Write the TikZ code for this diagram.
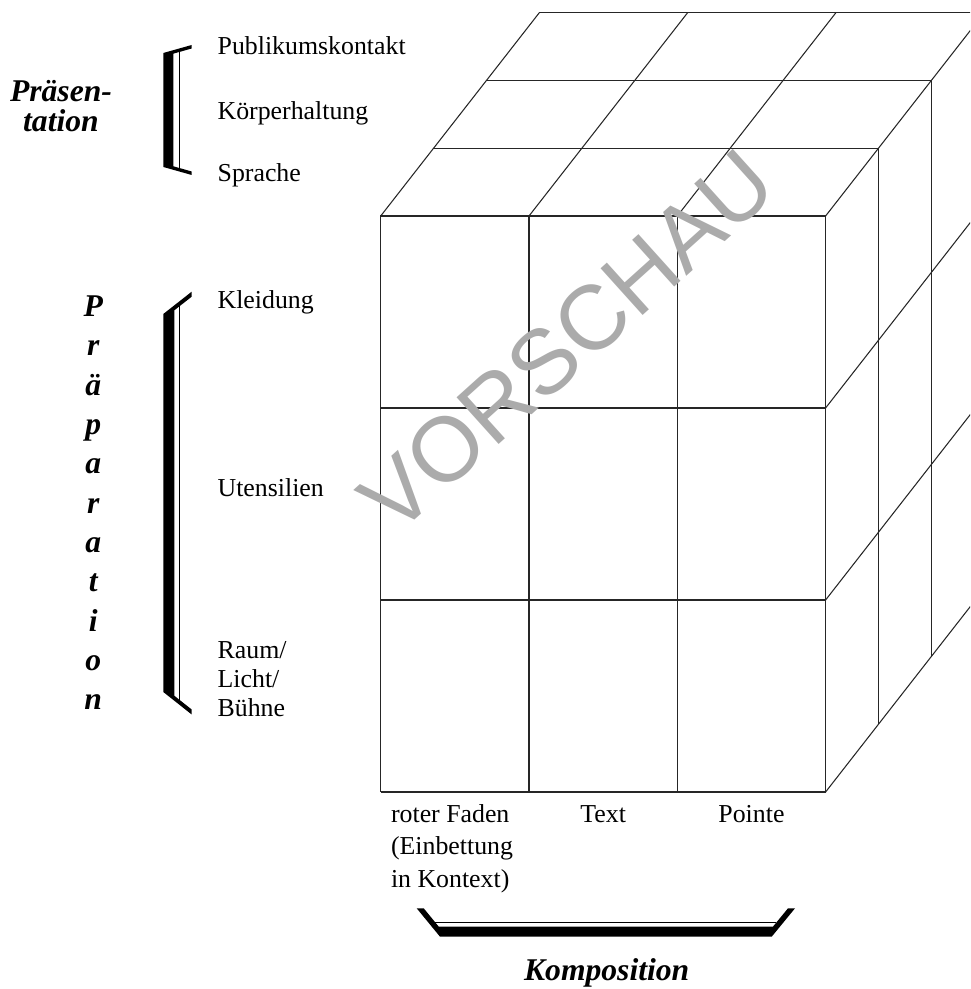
\documentclass[tikz,border=0pt]{standalone}
\usepackage{fontspec}
\setmainfont{Liberation Serif}
\newfontfamily\stampfont{Liberation Sans}

\begin{document}
\begin{tikzpicture}[
    cubeline/.style={line width=0.6pt, black!85},
    facet/.style={
        inner sep=0pt, anchor=base west,
        font=\fontsize{14.7}{16.6}\selectfont
    },
    collabel/.style={
        inner sep=0pt, anchor=base,
        font=\fontsize{14.7}{18.4}\selectfont
    },
    dimension/.style={
        inner sep=0pt, align=center,
        font=\fontsize{18}{17.1}\selectfont\bfseries\itshape
    },
    bracket/.style={fill=black},
    bracketrule/.style={line width=1.1pt},
    stamp/.style={
        inner sep=0pt, rotate=42, text=black!33,
        font=\fontsize{52}{52}\selectfont\stampfont
    }
]

\useasboundingbox (-7.614,-3.94) rectangle (11.786,15.84);
\clip (-7.614,-3.94) rectangle (11.786,15.84);

% Wuerfel: Vorderseite
\draw[cubeline, xstep=2.966, ystep=3.84] (0,0) grid (8.9,11.53);

% Wuerfel: Oberseite
\draw[cubeline] (1.058,12.876) -- (9.956,12.876);
\draw[cubeline] (2.116,14.232) -- (11.014,14.232);
\draw[cubeline] (3.174,15.588) -- (12.072,15.588);
\draw[cubeline] (0,11.52) -- (3.174,15.588);
\draw[cubeline] (2.966,11.52) -- (6.14,15.588);
\draw[cubeline] (5.932,11.52) -- (9.106,15.588);
\draw[cubeline] (8.898,11.52) -- (12.072,15.588);

% Wuerfel: rechte Seite
\draw[cubeline] (9.956,1.356) -- (9.956,12.876);
\draw[cubeline] (11.014,2.712) -- (11.014,14.232);
\draw[cubeline] (8.898,0) -- (12.072,4.068);
\draw[cubeline] (8.898,3.84) -- (12.072,7.908);
\draw[cubeline] (8.898,7.68) -- (12.072,11.748);

% Klammer Praesentation
\fill[bracket] (-4.348,12.50) -- (-4.348,14.78) -- (-3.78,14.94) -- (-3.78,14.87)
    -- (-4.148,14.766) -- (-4.148,12.514) -- (-3.78,12.41) -- (-3.78,12.34) -- cycle;
\draw[bracketrule] (-4.024,14.80) -- (-4.024,12.48);

% Klammer Praeparation
\fill[bracket] (-4.348,2.0) -- (-4.348,9.56) -- (-3.78,10.006) -- (-3.78,9.906)
    -- (-4.128,9.633) -- (-4.128,1.925) -- (-3.78,1.65) -- (-3.78,1.55) -- cycle;
\draw[bracketrule] (-4.024,9.715) -- (-4.024,1.843);

% Klammer Komposition
\fill[bracket] (0.72,-2.326) -- (1.186,-2.894) -- (7.82,-2.894) -- (8.286,-2.326)
    -- (8.146,-2.326) -- (7.844,-2.694) -- (1.162,-2.694) -- (0.86,-2.326) -- cycle;
\draw[bracketrule] (1.093,-2.61) -- (7.913,-2.61);

% Ebenen
\node[facet] (publikum) at (-3.268,14.74) {Publikumskontakt};
\node[facet] (koerper) at (-3.268,13.44) {Körperhaltung};
\node[facet] (sprache) at (-3.268,12.2) {Sprache};
\node[facet] (kleidung) at (-3.268,9.66) {Kleidung};
\node[facet] (utensilien) at (-3.268,5.9) {Utensilien};
\node[facet, align=left] (raum) at (-3.268,1.506) {Raum/\\Licht/\\Bühne};

% Spalten
\node[collabel, align=left, anchor=base west] (faden) at (0.2,-1.906) {roter Faden\\(Einbettung\\in Kontext)};
\node[collabel] (text) at (4.449,-0.614) {Text};
\node[collabel] (pointe) at (7.415,-0.614) {Pointe};

% Dimensionen
\node[dimension] (praesentation) at (-6.394,13.716) {Präsen-\\tation};
\node[dimension, font=\fontsize{18}{22.4}\selectfont\bfseries\itshape] (praeparation) at (-5.748,5.785)
    {P\\r\\ä\\p\\a\\r\\a\\t\\i\\o\\n};
\node[dimension, anchor=base] (komposition) at (4.52,-3.76) {Komposition};

% Wasserzeichen
\node[stamp] (vorschau) at (3.726,9.02) {VORSCHAU};

\end{tikzpicture}
\end{document}
